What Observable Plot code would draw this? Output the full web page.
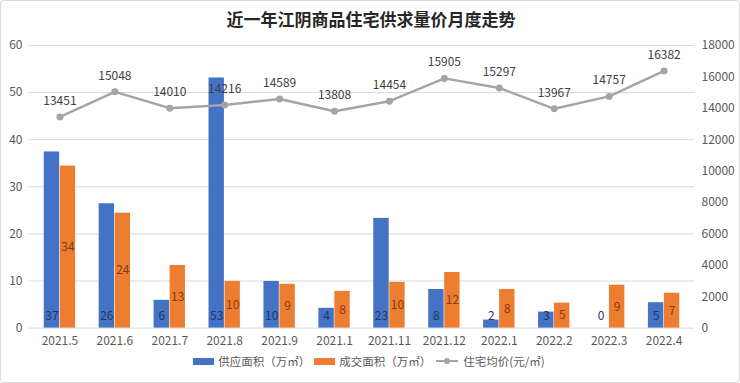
<!DOCTYPE html>
<html><head><meta charset="utf-8">
<script src="https://cdn.jsdelivr.net/npm/d3@7"></script>
<script src="https://cdn.jsdelivr.net/npm/@observablehq/plot@0.6"></script>
<style>
html,body{margin:0;padding:0;background:#fff;}
body{width:740px;height:383px;overflow:hidden;font-family:"Noto Sans CJK SC","Noto Sans",sans-serif;}
#wrap{position:relative;width:738px;height:381px;border:1px solid #d9d9d9;border-radius:4px;}
#title{position:absolute;left:0;top:6px;width:740px;text-align:center;font-size:17px;font-weight:bold;color:#262626;line-height:24px;}
#chart{position:absolute;left:-1px;top:35px;}
#legend{position:absolute;left:0;top:352px;width:740px;display:flex;justify-content:center;align-items:center;font-size:11.5px;color:#595959;}
.sw{display:inline-block;width:21px;height:7px;margin-right:4px;}
.item{display:flex;align-items:center;margin-right:4px;}
</style></head>
<body><div id="wrap">
<div id="title">近一年江阴商品住宅供求量价月度走势</div>
<div id="chart"></div>
<div id="legend"></div>
</div>
<script>
const months = ["2021.5","2021.6","2021.7","2021.8","2021.9","2021.1","2021.11","2021.12","2022.1","2022.2","2022.3","2022.4"];
const supply = [37.4, 26.4, 5.9, 53.1, 9.9, 4.2, 23.3, 8.2, 1.7, 3.4, 0, 5.4];
const sales = [34.4, 24.4, 13.3, 9.9, 9.3, 7.8, 9.7, 11.8, 8.2, 5.3, 9.1, 7.4];
const price = [13451, 15048, 14010, 14216, 14589, 13808, 14454, 15905, 15297, 13967, 14757, 16382];
const leftTicks = [0, 10, 20, 30, 40, 50, 60];
const rightTicks = [0, 2000, 4000, 6000, 8000, 10000, 12000, 14000, 16000, 18000];
const seriesNames = ["供应面积（万㎡）", "成交面积（万㎡）", "住宅均价(元/㎡)"];

const colors = {supply: "#4472C4", sales: "#ED7D31", price: "#A5A5A5"};
const ratio = 18000 / 60;
const rows = months.map((m, i) => ({month: m, supply: supply[i], sales: sales[i], price: price[i], p: price[i] / ratio}));

const W = 740, mL = 28, mR = 45;
const bw = (W - mL - mR) / months.length;
const barW = 16;
const font = "Noto Sans CJK SC";

const plot = Plot.plot({
  width: W, height: 320,
  marginLeft: mL, marginRight: mR, marginTop: 9, marginBottom: 28,
  style: {fontFamily: font, fontSize: "12px", color: "#595959", background: "transparent"},
  x: {type: "band", domain: months, padding: 0, label: null},
  y: {domain: [0, 60], label: null},
  marks: [
    Plot.gridY(leftTicks, {stroke: "#d9d9d9", strokeOpacity: 1}),
    Plot.barY(rows, {x: "month", y: "supply", fill: colors.supply, insetLeft: bw / 2 - barW, insetRight: bw / 2}),
    Plot.barY(rows, {x: "month", y: "sales", fill: colors.sales, insetLeft: bw / 2, insetRight: bw / 2 - barW}),
    Plot.text(rows, {x: "month", y: 0, text: d => d3.format(".0f")(d.supply), dx: -barW / 2, dy: -12, fill: "#1f3864", fontSize: 12}),
    Plot.text(rows, {x: "month", y: d => d.sales / 2, text: d => d3.format(".0f")(d.sales), dx: barW / 2, fill: "#843c0c", fontSize: 12}),
    Plot.line(rows, {x: "month", y: "p", stroke: colors.price, strokeWidth: 2.5}),
    Plot.dot(rows, {x: "month", y: "p", fill: colors.price, r: 3.5}),
    Plot.text(rows, {x: "month", y: "p", text: d => String(d.price), dy: -16, fill: "#404040", fontSize: 12}),
    Plot.axisY(leftTicks, {anchor: "left", tickSize: 0, tickPadding: 6, label: null, fill: "#595959"}),
    Plot.axisY(rightTicks.map(v => v / ratio), {anchor: "right", tickSize: 0, tickPadding: 7, label: null, textAnchor: "start", tickFormat: v => String(Math.round(v * ratio)), fill: "#595959"}),
    Plot.axisX({tickSize: 0, tickPadding: 8, label: null, fill: "#595959"})
  ]
});
document.getElementById("chart").appendChild(plot);

const leg = document.getElementById("legend");
[[colors.supply, seriesNames[0], "bar"], [colors.sales, seriesNames[1], "bar"], [colors.price, seriesNames[2], "line"]].forEach(([c, t, k]) => {
  const it = document.createElement("span");
  it.className = "item";
  if (k === "bar") {
    it.innerHTML = `<span class="sw" style="background:${c}"></span>${t}`;
  } else {
    it.innerHTML = `<svg width="24" height="8" style="margin-right:4px"><line x1="1" y1="4" x2="23" y2="4" stroke="${c}" stroke-width="2"/><circle cx="12" cy="4" r="3" fill="${c}"/></svg>${t}`;
  }
  leg.appendChild(it);
});
</script>
</body></html>
